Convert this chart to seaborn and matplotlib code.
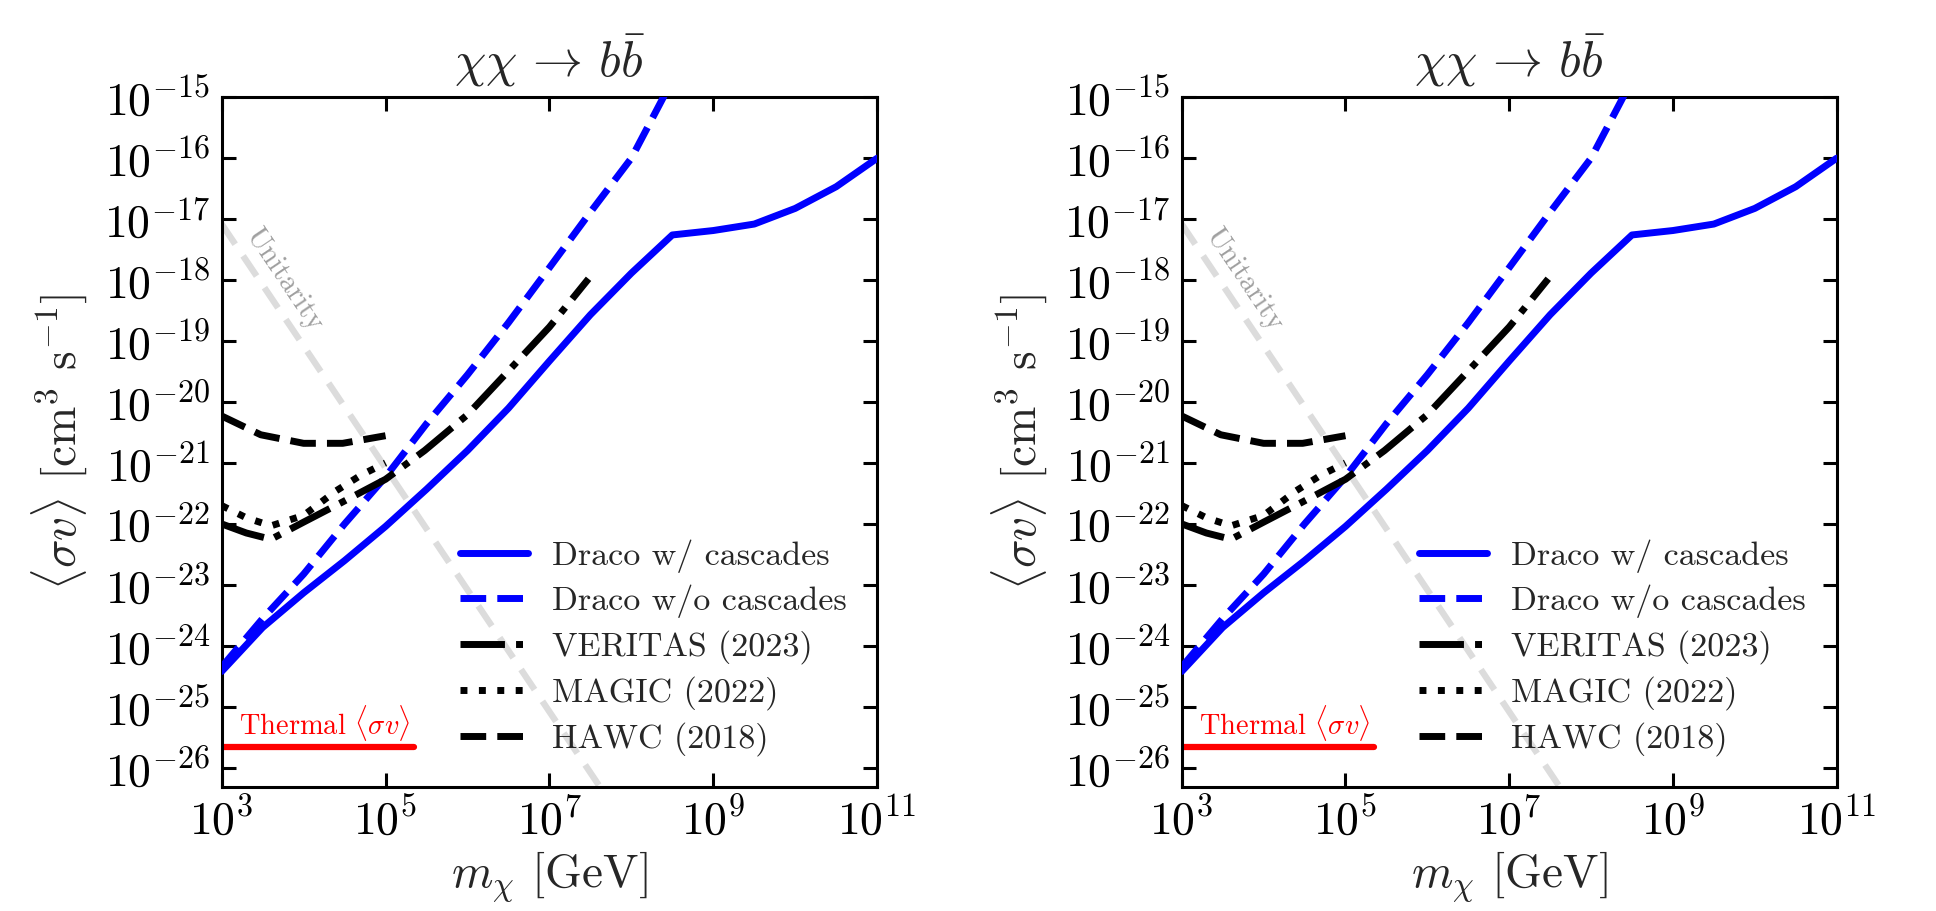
import numpy as np
import matplotlib
matplotlib.use("Agg")
import matplotlib.pyplot as plt
import seaborn as sns
from matplotlib.ticker import FixedLocator, FuncFormatter, NullLocator

# ---------------- data ----------------
mass_draco = [1.0e3, 3.16e3, 1.0e4, 3.16e4, 1.0e5, 3.16e5, 1.0e6, 3.16e6, 1.0e7,
              3.16e7, 1.0e8, 3.16e8, 1.0e9, 3.16e9, 1.0e10, 3.16e10, 1.0e11]
draco_with = [3.8e-25, 2.0e-24, 7.4e-24, 2.5e-23, 9.1e-23, 3.7e-22, 1.6e-21, 7.9e-21,
              4.7e-20, 2.7e-19, 1.3e-18, 5.5e-18, 6.5e-18, 8.3e-18, 1.5e-17, 3.4e-17, 1.0e-16]

mass_draco_wo = [1.0e3, 3.16e3, 1.0e4, 3.16e4, 1.0e5, 3.16e5, 1.0e6, 3.16e6, 1.0e7,
                 3.16e7, 1.0e8, 3.16e8]
draco_without = [4.5e-25, 2.8e-24, 1.5e-23, 1.0e-22, 5.9e-22, 4.4e-21, 2.8e-20, 2.0e-19,
                 1.6e-18, 1.3e-17, 1.0e-16, 1.9e-15]

mass_veritas = [1.0e3, 2.0e3, 4.0e3, 1.0e4, 3.0e4, 1.0e5, 3.0e5, 1.0e6, 3.0e6, 1.0e7, 3.0e7]
veritas = [1.0e-22, 7.1e-23, 5.6e-23, 1.07e-22, 2.3e-22, 5.4e-22, 1.6e-21, 6.2e-21,
           3.0e-20, 1.7e-19, 1.05e-18]

mass_magic = [1.0e3, 2.0e3, 4.0e3, 1.0e4, 2.5e4, 5.0e4, 1.0e5]
magic = [2.0e-22, 1.26e-22, 9.3e-23, 1.38e-22, 3.5e-22, 6.3e-22, 1.0e-21]

mass_hawc = [1.0e3, 3.0e3, 1.0e4, 3.0e4, 1.0e5]
hawc = [5.9e-21, 2.9e-21, 2.1e-21, 2.1e-21, 2.8e-21]

mass_unitarity = [1.0e3, 1.0e9]
unitarity = [8.3e-18, 8.3e-30]

mass_thermal = [1.0e3, 2.2e5]
thermal = [2.2e-26, 2.2e-26]

legend_labels = ["Draco w/ cascades", "Draco w/o cascades", "VERITAS (2023)",
                 "MAGIC (2022)", "HAWC (2018)"]
x_ticks = [1e3, 1e5, 1e7, 1e9, 1e11]
y_ticks = [1e-26, 1e-25, 1e-24, 1e-23, 1e-22, 1e-21, 1e-20, 1e-19, 1e-18,
           1e-17, 1e-16, 1e-15]

# ---------------- style ----------------
sns.set_theme(style="ticks")
plt.rcParams.update({
    "font.family": ["cmr10"],
    "mathtext.fontset": "cm",
    "axes.unicode_minus": False,
    "axes.linewidth": 2.2,
    "axes.edgecolor": "black",
    "xtick.direction": "in", "ytick.direction": "in",
    "xtick.top": True, "ytick.right": True,
    "xtick.major.size": 10, "ytick.major.size": 10,
    "xtick.major.width": 2.2, "ytick.major.width": 2.2,
    "xtick.color": "black", "ytick.color": "black",
    "xtick.labelsize": 33, "ytick.labelsize": 33,
    "xtick.major.pad": 8, "ytick.major.pad": 8,
})

fig = plt.figure(figsize=(19.36, 9.11), dpi=100)
ax_left = fig.add_axes([0.1145, 0.1365, 0.3386, 0.7568])
ax_right = fig.add_axes([0.6104, 0.1365, 0.3383, 0.7568])

LW = 5.0


def draw_panel(ax):
    ax.set_xscale("log")
    ax.set_yscale("log")
    sns.lineplot(x=mass_unitarity, y=unitarity, ax=ax, color="#dcdcdc", linewidth=4.6,
                 linestyle=(0, (3.8, 2.2)), zorder=1)
    sns.lineplot(x=mass_thermal, y=thermal, ax=ax, color="red", linewidth=4.5, zorder=2)
    sns.lineplot(x=mass_draco, y=draco_with, ax=ax, color="blue", linewidth=LW, zorder=3)
    h1 = ax.lines[-1]
    sns.lineplot(x=mass_draco_wo, y=draco_without, ax=ax, color="blue", linewidth=LW,
                 linestyle="--", zorder=3)
    h2 = ax.lines[-1]
    sns.lineplot(x=mass_veritas, y=veritas, ax=ax, color="black", linewidth=LW,
                 linestyle="-.", zorder=3)
    h3 = ax.lines[-1]
    sns.lineplot(x=mass_magic, y=magic, ax=ax, color="black", linewidth=LW,
                 linestyle=":", zorder=3)
    h4 = ax.lines[-1]
    sns.lineplot(x=mass_hawc, y=hawc, ax=ax, color="black", linewidth=LW,
                 linestyle="--", zorder=3)
    h5 = ax.lines[-1]

    ax.set_xlim(1e3, 1e11)
    ax.set_ylim(4.9e-27, 1e-15)
    ax.xaxis.set_major_locator(FixedLocator(x_ticks))
    ax.yaxis.set_major_locator(FixedLocator(y_ticks))
    ax.xaxis.set_minor_locator(NullLocator())
    ax.yaxis.set_minor_locator(NullLocator())
    fmt = FuncFormatter(lambda v, p: r"$10^{%d}$" % int(round(np.log10(v))))
    ax.xaxis.set_major_formatter(fmt)
    ax.yaxis.set_major_formatter(fmt)

    ax.set_title(r"$\chi\chi\,\rightarrow\,b\bar{b}$", fontsize=36, pad=15)
    ax.set_xlabel(r"$m_\chi$ [GeV]", fontsize=34, labelpad=4)
    ax.set_ylabel(r"$\langle\sigma v\rangle$ [cm$^3$ s$^{-1}$]", fontsize=34, labelpad=10)

    ax.text(1.8e4, 3.5e-26, r"Thermal $\langle\sigma v\rangle$", color="red",
            fontsize=20.5, ha="center", va="baseline")

    # rotation of the unitarity label follows the line on screen
    p1 = ax.transData.transform((mass_unitarity[0], unitarity[0]))
    p2 = ax.transData.transform((mass_unitarity[1], unitarity[1]))
    ang = np.degrees(np.arctan2(p2[1] - p1[1], p2[0] - p1[0]))
    ax.text(5.7e3, 1.0e-18, "Unitarity", color="#a0a0a0", fontsize=21,
            rotation=ang, rotation_mode="anchor", ha="center", va="center")

    ax.legend([h1, h2, h3, h4, h5], legend_labels, loc="lower right", frameon=False,
              fontsize=24.5, handlelength=2.0, handletextpad=0.7, labelspacing=0.35,
              borderaxespad=0.5)


draw_panel(ax_left)
draw_panel(ax_right)

fig.savefig("out.png", dpi=100)
